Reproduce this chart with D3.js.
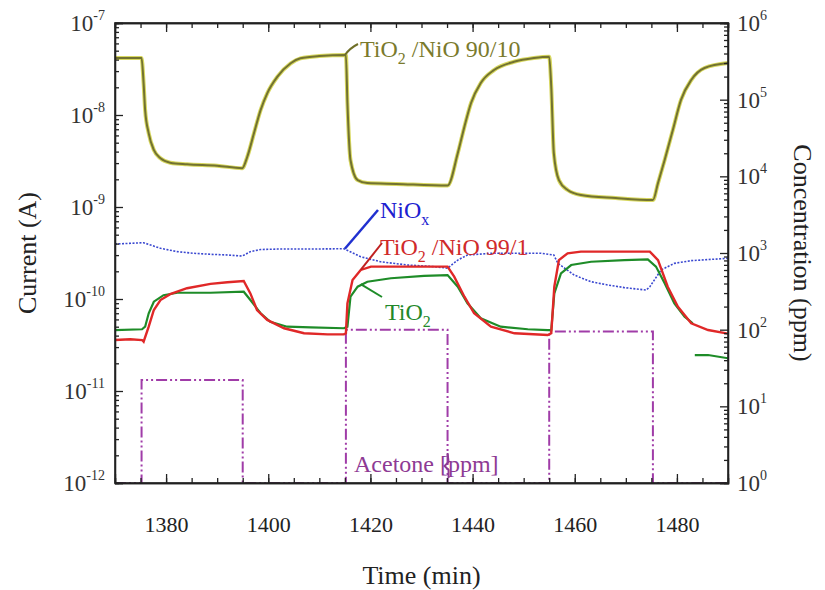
<!DOCTYPE html>
<html>
<head>
<meta charset="utf-8">
<script src="https://cdn.jsdelivr.net/npm/d3@7/dist/d3.min.js"></script>
<style>
  body { margin: 0; background: #fff; }
  svg { display: block; font-family: "Liberation Serif", "DejaVu Serif", serif; }
</style>
</head>
<body>
<svg id="chart" width="825" height="590"></svg>
<script>
// time axis (min)
const xTicks = [1380, 1400, 1420, 1440, 1460, 1480];

// TiO2/NiO 90/10 current (A)
const t9010 = [1370, 1375.2, 1375.6, 1375.9, 1376.6, 1377.6, 1378.9, 1380.8, 1384.1, 1390, 1394.9,
  1395.9, 1397.2, 1398.5, 1399.8, 1401.8, 1404.4, 1406.3, 1410, 1415.2,
  1415.5, 1416.1, 1417.5, 1419.4, 1425, 1435.1,
  1437.1, 1438.4, 1439.7, 1441.6, 1444.2, 1448.1, 1452, 1455.0,
  1455.4, 1455.9, 1456.9, 1458.6, 1461.2, 1468, 1475.3,
  1476.3, 1477.6, 1479.2, 1480.8, 1482.8, 1485.4, 1490];
const i9010 = [4.16e-8, 4.16e-8, 2.21e-8, 1.13e-8, 6.32e-9, 4.17e-9, 3.38e-9, 3.03e-9, 2.91e-9, 2.81e-9, 2.64e-9,
  3.52e-9, 6.32e-9, 1.13e-8, 1.72e-8, 2.61e-8, 3.65e-8, 4.13e-8, 4.38e-8, 4.49e-8,
  1.35e-8, 3.24e-9, 1.96e-9, 1.82e-9, 1.78e-9, 1.71e-9,
  3.84e-9, 7.46e-9, 1.35e-8, 2.23e-8, 3.08e-8, 3.79e-8, 4.17e-8, 4.31e-8,
  2.03e-8, 3.86e-9, 1.96e-9, 1.53e-9, 1.35e-9, 1.25e-9, 1.19e-9,
  1.82e-9, 3.24e-9, 6.87e-9, 1.46e-8, 2.40e-8, 3.24e-8, 3.67e-8];

// NiOx current (A)
const tNiO = [1370, 1375.6, 1378.9, 1382.2, 1385.4, 1388.7, 1392, 1394.9, 1396.5, 1398.5, 1401.8, 1408.3,
  1414.8, 1418.1, 1422, 1427.3, 1432.4, 1435.1, 1437.1, 1439, 1443.6, 1453.4, 1455.9, 1456.7,
  1459.9, 1463.2, 1466.5, 1469.7, 1474, 1474.7, 1476.9, 1479.5, 1482.8, 1490];
const iNiO = [3.96e-10, 4.09e-10, 3.56e-10, 3.27e-10, 3.14e-10, 3.06e-10, 3.01e-10, 2.93e-10, 3.27e-10, 3.45e-10, 3.49e-10, 3.49e-10,
  3.52e-10, 2.88e-10, 2.54e-10, 2.34e-10, 2.25e-10, 2.16e-10, 2.65e-10, 3.01e-10, 3.14e-10, 3.14e-10, 3.01e-10, 2.44e-10,
  1.82e-10, 1.54e-10, 1.42e-10, 1.33e-10, 1.25e-10, 1.36e-10, 2.07e-10, 2.44e-10, 2.61e-10, 2.77e-10];

// TiO2/NiO 99/1 current (A)
const t991 = [1370, 1373, 1375.3, 1375.6, 1376.6, 1377.6, 1378.9, 1380.8, 1384.1, 1388.7, 1392, 1395.2,
  1396.5, 1397.8, 1399.8, 1403.1, 1407, 1411.6, 1414.8, 1415.2, 1415.5, 1416.5, 1418.1, 1420.1, 1435.1,
  1436.4, 1438.4, 1440.3, 1443.6, 1448.2, 1454.7, 1455.4, 1456, 1456.9, 1458.6, 1461.2, 1474.7,
  1476.3, 1478.2, 1480.2, 1482.8, 1486.1, 1490];
const i991 = [3.58e-11, 3.65e-11, 3.58e-11, 3.44e-11, 5.0e-11, 7.59e-11, 9.75e-11, 1.13e-10, 1.31e-10, 1.46e-10, 1.52e-10, 1.57e-10,
  1.15e-10, 7.59e-11, 5.92e-11, 4.81e-11, 4.24e-11, 4.13e-11, 4.13e-11, 4.24e-11, 8.97e-11, 1.61e-10, 2.07e-10, 2.25e-10, 2.25e-10,
  1.75e-10, 1.06e-10, 7.0e-11, 5.0e-11, 4.24e-11, 4.06e-11, 4.24e-11, 1.36e-10, 2.65e-10, 3.14e-10, 3.27e-10, 3.27e-10,
  2.65e-10, 1.36e-10, 8.24e-11, 5.45e-11, 4.6e-11, 4.2e-11];

// TiO2 current (A); null = break in the record
const tTiO2 = [1370, 1375.3, 1375.9, 1376.6, 1377.6, 1379.5, 1382.2, 1388.7, 1395.2,
  1396.5, 1398.5, 1400.4, 1403.7, 1408.3, 1414.8, 1415.5, 1416.1, 1417.5, 1419.4, 1424, 1430.5, 1435.1,
  1437.1, 1439, 1441.6, 1445.5, 1450.8, 1454.7, 1455.4, 1456, 1457.3, 1459.3, 1463.2, 1469.7, 1474.3,
  1475.9, 1477.6, 1479.5, 1481.5, 1483.1, 1483.3, 1483.5, 1486.1, 1490];
const iTiO2 = [4.6e-11, 4.69e-11, 5.0e-11, 7.0e-11, 9.35e-11, 1.10e-10, 1.17e-10, 1.17e-10, 1.20e-10,
  9.75e-11, 7.0e-11, 5.66e-11, 5.0e-11, 4.92e-11, 4.81e-11, 5.0e-11, 1.06e-10, 1.36e-10, 1.54e-10, 1.68e-10, 1.78e-10, 1.82e-10,
  1.36e-10, 8.97e-11, 6.17e-11, 5.0e-11, 4.69e-11, 4.6e-11, 4.6e-11, 1.15e-10, 1.90e-10, 2.34e-10, 2.54e-10, 2.65e-10, 2.70e-10,
  2.25e-10, 1.48e-10, 8.97e-11, 6.43e-11, 5.45e-11, null, 2.46e-11, 2.46e-11, 2.27e-11];

// acetone pulses (ppm, right axis)
const acetoneOn = [1375.2, 1415.2, 1455.0];
const acetoneOff = [1395.0, 1435.1, 1475.3];
const acetonePpm = [22, 100, 95];
const acetoneBase = 1;

const W = 825, H = 590;
const margin = { top: 23, right: 97, bottom: 107, left: 115 };
const svg = d3.select("#chart");

const x = d3.scaleLinear().domain([1370, 1490]).range([margin.left, W - margin.right]);
const y = d3.scaleLog().domain([1e-12, 1e-7]).range([H - margin.bottom, margin.top]);
const y2 = d3.scaleLog().domain([1, 1e6]).range([H - margin.bottom, margin.top]);

const pTop = margin.top, pBottom = H - margin.bottom, pLeft = margin.left, pRight = W - margin.right;

svg.append("defs").append("clipPath").attr("id", "clip")
  .append("rect")
  .attr("x", pLeft).attr("y", pTop)
  .attr("width", pRight - pLeft)
  .attr("height", pBottom - pTop);

const plot = svg.append("g").attr("clip-path", "url(#clip)");

function zipSeries(ts, vs) {
  return ts.map((t, k) => ({ t: t, v: vs[k] }));
}

const line = d3.line()
  .defined(d => d.v != null)
  .x(d => x(d.t))
  .y(d => y(d.v));

// acetone step trace
const acetone = [{ t: 1370, v: acetoneBase }];
acetoneOn.forEach((on, k) => {
  acetone.push({ t: on, v: acetoneBase }, { t: on, v: acetonePpm[k] },
    { t: acetoneOff[k], v: acetonePpm[k] }, { t: acetoneOff[k], v: acetoneBase });
});
acetone.push({ t: 1490, v: acetoneBase });

plot.append("path")
  .datum(acetone)
  .attr("fill", "none")
  .attr("stroke", "#a03ca8")
  .attr("stroke-width", 2)
  .attr("stroke-dasharray", "11,3,2,3,2,3")
  .attr("d", d3.line().x(d => x(d.t)).y(d => y2(d.v)));

plot.append("path")
  .datum(zipSeries(tNiO, iNiO))
  .attr("fill", "none")
  .attr("stroke", "#3a48d0")
  .attr("stroke-width", 1.6)
  .attr("stroke-dasharray", "2,1.5")
  .attr("d", line);

plot.append("path")
  .datum(zipSeries(tTiO2, iTiO2))
  .attr("fill", "none")
  .attr("stroke", "#1e8c28")
  .attr("stroke-width", 2.2)
  .attr("d", line);

plot.append("path")
  .datum(zipSeries(t991, i991))
  .attr("fill", "none")
  .attr("stroke", "#e02828")
  .attr("stroke-width", 2.4)
  .attr("d", line);

// olive trace: light halo + darker core
const s9010 = zipSeries(t9010, i9010);
const smooth = d3.line().x(d => x(d.t)).y(d => y(d.v)).curve(d3.curveMonotoneX);
plot.append("path").datum(s9010)
  .attr("fill", "none").attr("stroke", "#d8d860").attr("stroke-width", 4)
  .attr("d", smooth);
plot.append("path").datum(s9010)
  .attr("fill", "none").attr("stroke", "#727230").attr("stroke-width", 2)
  .attr("d", smooth);

// axes
const minorX = d3.range(1370, 1491, 5);
function logMinor(lo, hi) {
  const out = [];
  for (let e = lo; e < hi; e++) for (let m = 2; m <= 9; m++) out.push(m * Math.pow(10, e));
  return out;
}
const yMajor = d3.range(-12, -6).map(e => Math.pow(10, e));
const y2Major = d3.range(0, 7).map(e => Math.pow(10, e));

const axisG = svg.append("g").attr("stroke-width", 1.3);

axisG.append("g").attr("transform", `translate(0,${pBottom})`)
  .call(d3.axisBottom(x).tickValues(minorX).tickSize(-5).tickFormat(""));
axisG.append("g").attr("transform", `translate(0,${pBottom})`)
  .call(d3.axisBottom(x).tickValues(xTicks).tickSize(-9).tickPadding(33).tickFormat(d3.format("d")))
  .call(g => g.selectAll("text").attr("font-size", 22).attr("fill", "#222")
    .attr("font-family", "Liberation Serif"));
axisG.append("g").attr("transform", `translate(0,${pTop})`)
  .call(d3.axisTop(x).tickValues(minorX).tickSize(-5).tickFormat(""));
axisG.append("g").attr("transform", `translate(0,${pTop})`)
  .call(d3.axisTop(x).tickValues(xTicks).tickSize(-9).tickFormat(""));

axisG.append("g").attr("transform", `translate(${pLeft},0)`)
  .call(d3.axisLeft(y).tickValues(logMinor(-12, -7)).tickSize(-4).tickFormat(""));
axisG.append("g").attr("transform", `translate(${pLeft},0)`)
  .call(d3.axisLeft(y).tickValues(yMajor).tickSize(-8).tickFormat(""));
axisG.append("g").attr("transform", `translate(${pRight},0)`)
  .call(d3.axisRight(y2).tickValues(logMinor(0, 6)).tickSize(-4).tickFormat(""));
axisG.append("g").attr("transform", `translate(${pRight},0)`)
  .call(d3.axisRight(y2).tickValues(y2Major).tickSize(-8).tickFormat(""));

axisG.selectAll(".domain").attr("stroke", "#222");
axisG.selectAll(".tick line").attr("stroke", "#222");

svg.append("rect")
  .attr("x", pLeft).attr("y", pTop)
  .attr("width", pRight - pLeft).attr("height", pBottom - pTop)
  .attr("fill", "none").attr("stroke", "#222").attr("stroke-width", 1.6);

// power-of-ten tick labels
function powLabel(g, xp, yp, exp, anchor) {
  const t = g.append("text").attr("x", xp).attr("y", yp + 8)
    .attr("text-anchor", anchor).attr("font-size", 23).attr("fill", "#333");
  t.append("tspan").text("10");
  t.append("tspan").attr("dy", -11).attr("font-size", 14).text(exp);
}
const labG = svg.append("g");
yMajor.forEach(v => powLabel(labG, pLeft - 10, y(v), String(Math.round(Math.log10(v))), "end"));
y2Major.forEach(v => powLabel(labG, pRight + 9, y2(v), String(Math.round(Math.log10(v))), "start"));

// axis titles
svg.append("text").attr("x", (pLeft + pRight) / 2).attr("y", 584)
  .attr("text-anchor", "middle").attr("font-size", 26).attr("fill", "#222").text("Time (min)");
svg.append("text").attr("transform", `translate(36,${(pTop + pBottom) / 2}) rotate(-90)`)
  .attr("text-anchor", "middle").attr("font-size", 26).attr("fill", "#222").text("Current (A)");
svg.append("text").attr("transform", `translate(794,${(pTop + pBottom) / 2}) rotate(90)`)
  .attr("text-anchor", "middle").attr("font-size", 26).attr("fill", "#222").text("Concentration (ppm)");

// series annotations
function subLabel(xp, yp, main, sub, rest, color) {
  const t = svg.append("text").attr("x", xp).attr("y", yp)
    .attr("font-size", 24).attr("fill", color);
  t.append("tspan").text(main);
  if (sub) t.append("tspan").attr("dy", 7).attr("font-size", 16).text(sub);
  if (rest) t.append("tspan").attr("dy", -7).text(rest);
}
subLabel(360, 57, "TiO", "2", " /NiO 90/10", "#7a7a2c");
subLabel(380, 218, "NiO", "x", null, "#2020d0");
subLabel(380, 255, "TiO", "2", " /NiO 99/1", "#d02a2a");
subLabel(385, 320, "TiO", "2", null, "#22882a");
svg.append("text").attr("x", 354).attr("y", 472).attr("font-size", 24)
  .attr("fill", "#8e3a94").text("Acetone [ppm]");

// leader lines
svg.append("path").attr("d", `M${x(1415)},${y(4.49e-8)} Q350,48 358,44`)
  .attr("fill", "none").attr("stroke", "#6f6f28").attr("stroke-width", 2);
svg.append("path").attr("d", `M${x(1415)},${y(3.52e-10)} L378,210`)
  .attr("fill", "none").attr("stroke", "#2030d0").attr("stroke-width", 2.5);
svg.append("path").attr("d", `M${x(1418.1)},${y(2.07e-10)} L382,243`)
  .attr("fill", "none").attr("stroke", "#c02020").attr("stroke-width", 2);
svg.append("path").attr("d", `M${x(1418.1)},${y(1.45e-10)} L382,297`)
  .attr("fill", "none").attr("stroke", "#1e8c28").attr("stroke-width", 2);
svg.append("path").attr("d", `M${x(1435.1)},453 L${x(1435.1) + 1},462 L${x(1435.1) - 3},466 L${x(1435.1) + 1},470 L${x(1435.1) + 1},478`)
  .attr("fill", "none").attr("stroke", "#8e3a94").attr("stroke-width", 2);
</script>
</body>
</html>
